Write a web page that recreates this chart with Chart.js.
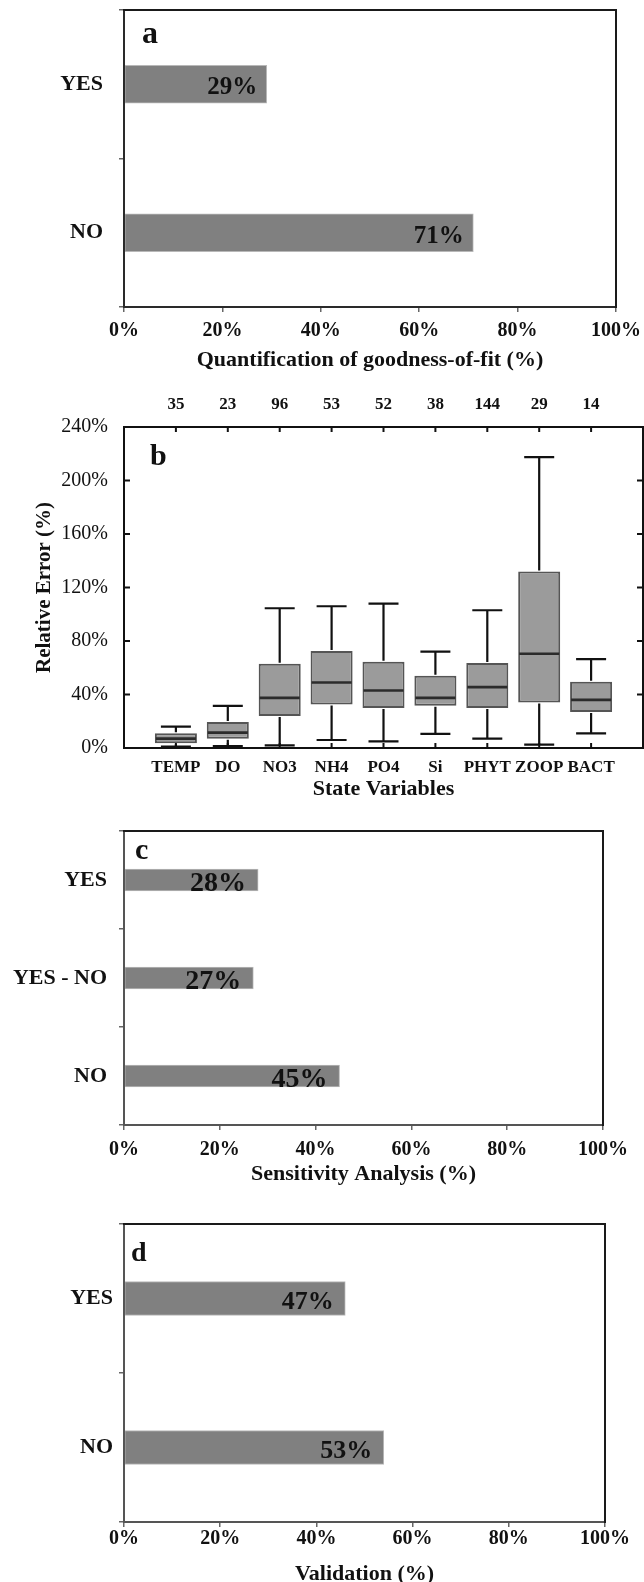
<!DOCTYPE html>
<html><head><meta charset="utf-8">
<script src="https://cdn.jsdelivr.net/npm/chart.js@4.4.1/dist/chart.umd.min.js"></script>
<style>
html,body{margin:0;padding:0;background:#fff;width:644px;height:1582px;overflow:hidden;position:relative}
canvas{position:absolute;left:0}
</style></head><body>
<canvas id="ca" width="644" height="374" style="top:0px"></canvas>
<canvas id="cb" width="644" height="423" style="top:380px"></canvas>
<canvas id="cc" width="644" height="388" style="top:800px"></canvas>
<canvas id="cd" width="644" height="400" style="top:1188px"></canvas>
<script>
// ---- Panel a: goodness-of-fit ----
const goodnessCategories = ['YES', 'NO'];
const goodnessValues = [29, 71];
const goodnessLabels = ['29%', '71%'];

// ---- Panel b: relative error box plots ----
const stateVariables = ['TEMP', 'DO', 'NO3', 'NH4', 'PO4', 'Si', 'PHYT', 'ZOOP', 'BACT'];
const sampleCounts = ['35', '23', '96', '53', '52', '38', '144', '29', '14'];
const whiskerLow  = [1, 1.5, 2, 6, 5, 10.5, 7, 2.5, 11];
const quartile1   = [3.5, 7, 24, 32.5, 30, 31.5, 30, 34, 27];
const medians     = [7, 11.5, 37.5, 49, 43, 37.5, 45.5, 70.5, 36];
const quartile3   = [11, 19.5, 63, 72.5, 64.5, 54, 63.5, 132, 49.5];
const whiskerHigh = [16, 31.5, 104.5, 106, 108, 72, 103, 217.5, 66.5];
const errorTicks = [0, 40, 80, 120, 160, 200, 240];

// ---- Panel c: sensitivity analysis ----
const sensitivityCategories = ['YES', 'YES - NO', 'NO'];
const sensitivityValues = [28, 27, 45];
const sensitivityLabels = ['28%', '27%', '45%'];

// ---- Panel d: validation ----
const validationCategories = ['YES', 'NO'];
const validationValues = [46, 54];
const validationLabels = ['47%', '53%'];

const percentTicks = [0, 20, 40, 60, 80, 100];

const FONT = '"Liberation Serif","Times New Roman",Times,serif';
const INK = '#111';

const framePlugin = {
  id: 'frame',
  afterDatasetsDraw(chart, args, o) {
    const {ctx, chartArea: a} = chart;
    const strong = o.color || '#222';
    const soft = o.soft || strong;
    ctx.save();
    ctx.lineWidth = 2;
    ctx.lineCap = 'square';
    ctx.strokeStyle = soft;
    ctx.beginPath();
    ctx.moveTo(a.left, a.top); ctx.lineTo(a.left, a.bottom); ctx.lineTo(a.right, a.bottom);
    ctx.stroke();
    ctx.strokeStyle = strong;
    ctx.beginPath();
    ctx.moveTo(a.left, a.top); ctx.lineTo(a.right, a.top); ctx.lineTo(a.right, a.bottom);
    ctx.stroke();
    ctx.restore();
  }
};
const letterPlugin = {
  id: 'letter',
  afterDraw(chart, args, o) {
    const ctx = chart.ctx;
    ctx.save();
    ctx.font = 'bold ' + o.size + 'px ' + FONT;
    ctx.fillStyle = INK;
    ctx.textAlign = 'left';
    ctx.textBaseline = 'alphabetic';
    ctx.fillText(o.text, o.x, o.y);
    ctx.restore();
  }
};
const barLabelPlugin = {
  id: 'barLabels',
  afterDatasetsDraw(chart, args, o) {
    const ctx = chart.ctx;
    const meta = chart.getDatasetMeta(0);
    ctx.save();
    ctx.font = 'bold ' + o.size + 'px ' + FONT;
    ctx.fillStyle = INK;
    ctx.textAlign = 'right';
    ctx.textBaseline = 'alphabetic';
    meta.data.forEach((bar, i) => ctx.fillText(o.labels[i], bar.x - o.gap, bar.y + o.dy));
    ctx.restore();
  }
};

function fixV(w) { return s => { s.width = w; s.paddingTop = 0; s.paddingBottom = 0; }; }
function fixH(h) { return s => { s.height = h; s.paddingLeft = 0; s.paddingRight = 0; }; }

function makeHBar(id, cats, vals, labels, c) {
  new Chart(document.getElementById(id), {
    type: 'bar',
    data: {labels: cats, datasets: [{data: vals, backgroundColor: '#808080', borderColor: '#b8b8b8', borderWidth: 1, borderSkipped: false, barThickness: c.thick}]},
    options: {
      indexAxis: 'y', responsive: false, animation: false, devicePixelRatio: 1,
      layout: {padding: {top: c.padTop, right: c.padRight, bottom: 0, left: 0}},
      plugins: {
        legend: {display: false}, tooltip: {enabled: false},
        frame: {color: '#1a1a1a', soft: c.soft},
        barLabels: {labels: labels, size: c.labelSize, gap: c.gap, dy: c.dy},
        letter: c.letter
      },
      scales: {
        x: {
          type: 'linear', min: 0, max: 100,
          afterBuildTicks: s => { s.ticks = percentTicks.map(v => ({value: v})); },
          ticks: {callback: v => v + '%', font: {family: FONT, size: 20, weight: 'bold'}, color: INK, padding: c.xPad, maxRotation: 0},
          grid: {drawOnChartArea: false, tickLength: 5, color: '#666', lineWidth: 1.5},
          border: {display: false},
          title: {display: true, text: c.title, font: {family: FONT, size: 22, weight: 'bold'}, color: INK, padding: 0},
          afterFit: fixH(c.xH)
        },
        y: {
          ticks: {font: {family: FONT, size: 22, weight: 'bold'}, color: INK, padding: c.yPad},
          grid: {drawOnChartArea: false, tickLength: 5, color: '#666', offset: true, lineWidth: 1.5},
          border: {display: false},
          afterFit: fixV(124)
        }
      }
    },
    plugins: [framePlugin, barLabelPlugin, letterPlugin]
  });
}

makeHBar('ca', goodnessCategories, goodnessValues, goodnessLabels, {
  thick: 38, padTop: 10, padRight: 28, labelSize: 25, gap: 9.5, dy: 10,
  xPad: 7, xH: 67, yPad: 16, title: 'Quantification of goodness-of-fit (%)',
  soft: '#2a2a2a',
  letter: {text: 'a', x: 142, y: 43, size: 32}
});
makeHBar('cc', sensitivityCategories, sensitivityValues, sensitivityLabels, {
  thick: 22, padTop: 31, padRight: 41, labelSize: 28, gap: 12, dy: 10.5,
  xPad: 8, xH: 63, yPad: 12, title: 'Sensitivity Analysis (%)',
  soft: '#555',
  letter: {text: 'c', x: 135, y: 59, size: 30}
});
makeHBar('cd', validationCategories, validationValues, validationLabels, {
  thick: 34, padTop: 36, padRight: 39, labelSize: 26, gap: 11.5, dy: 10.3,
  xPad: 0, xH: 66, yPad: 6, title: 'Validation (%)',
  soft: '#555',
  letter: {text: 'd', x: 131, y: 73, size: 28}
});

// ---- Panel b ----
const padLabels = [''].concat(stateVariables, ['']);
const padCounts = [''].concat(sampleCounts, ['']);
const boxData = [null].concat(stateVariables.map((_, i) => [quartile1[i], quartile3[i]]), [null]);

const boxPlugin = {
  id: 'boxes',
  afterDatasetsDraw(chart) {
    const ctx = chart.ctx, xs = chart.scales.x, ys = chart.scales.y;
    const meta = chart.getDatasetMeta(0);
    ctx.save();
    stateVariables.forEach((_, i) => {
      const bar = meta.data[i + 1];
      const x = xs.getPixelForValue(i + 1);
      const half = bar.width / 2;
      const cap = 15;
      const yl = ys.getPixelForValue(whiskerLow[i]);
      const y1 = ys.getPixelForValue(quartile1[i]);
      const ym = ys.getPixelForValue(medians[i]);
      const y3 = ys.getPixelForValue(quartile3[i]);
      const yh = ys.getPixelForValue(whiskerHigh[i]);
      ctx.strokeStyle = INK; ctx.lineWidth = 2.2;
      ctx.beginPath();
      ctx.moveTo(x, y3 - 1); ctx.lineTo(x, yh);
      ctx.moveTo(x - cap, yh); ctx.lineTo(x + cap, yh);
      ctx.moveTo(x, y1 + 1); ctx.lineTo(x, yl);
      ctx.moveTo(x - cap, yl); ctx.lineTo(x + cap, yl);
      ctx.stroke();
      ctx.strokeStyle = '#2b2b2b'; ctx.lineWidth = 2.6;
      ctx.beginPath(); ctx.moveTo(x - half + 1, ym); ctx.lineTo(x + half - 1, ym); ctx.stroke();
    });
    ctx.restore();
  }
};
const innerTicksPlugin = {
  id: 'innerTicks',
  afterDraw(chart) {
    const ctx = chart.ctx, a = chart.chartArea, xs = chart.scales.x, ys = chart.scales.y;
    ctx.save();
    ctx.strokeStyle = INK; ctx.lineWidth = 2;
    ctx.beginPath();
    errorTicks.forEach(v => {
      const y = ys.getPixelForValue(v);
      ctx.moveTo(a.left, y); ctx.lineTo(a.left + 6, y);
      ctx.moveTo(a.right - 6, y); ctx.lineTo(a.right, y);
    });
    stateVariables.forEach((_, i) => {
      const x = xs.getPixelForValue(i + 1);
      ctx.moveTo(x, a.top); ctx.lineTo(x, a.top + 5);
      ctx.moveTo(x, a.bottom - 5); ctx.lineTo(x, a.bottom);
    });
    ctx.stroke();
    ctx.restore();
  }
};

new Chart(document.getElementById('cb'), {
  type: 'bar',
  data: {labels: padLabels, datasets: [{data: boxData, backgroundColor: '#9b9b9b', borderColor: '#555', borderWidth: 2, borderSkipped: false, categoryPercentage: 1, barPercentage: 0.81}]},
  options: {
    responsive: false, animation: false, devicePixelRatio: 1,
    layout: {padding: {top: 0, right: 1, bottom: 0, left: 0}},
    plugins: {
      legend: {display: false}, tooltip: {enabled: false},
      frame: {color: '#111'},
      letter: {text: 'b', x: 150, y: 85, size: 30}
    },
    scales: {
      x: {
        type: 'category', offset: false,
        grid: {display: false, offset: false}, border: {display: false},
        ticks: {autoSkip: false, maxRotation: 0, font: {family: FONT, size: 17, weight: 'bold'}, color: INK, padding: 1},
        title: {display: true, text: 'State Variables', font: {family: FONT, size: 22, weight: 'bold'}, color: INK, padding: 0},
        afterFit: fixH(55)
      },
      x2: {
        type: 'category', labels: padCounts, position: 'top', offset: false,
        grid: {display: false}, border: {display: false},
        ticks: {autoSkip: false, maxRotation: 0, font: {family: FONT, size: 17, weight: 'bold'}, color: INK, padding: 4},
        afterFit: fixH(47)
      },
      y: {
        min: 0, max: 240,
        afterBuildTicks: s => { s.ticks = errorTicks.map(v => ({value: v})); },
        ticks: {callback: v => v + '%', font: {family: FONT, size: 20}, color: INK, padding: 8},
        grid: {display: false}, border: {display: false},
        title: {display: true, text: 'Relative Error (%)', font: {family: FONT, size: 21, weight: 'bold'}, color: INK, padding: {top: 32, bottom: 0}},
        afterFit: fixV(124)
      }
    }
  },
  plugins: [boxPlugin, innerTicksPlugin, framePlugin, letterPlugin]
});
</script>
</body></html>
